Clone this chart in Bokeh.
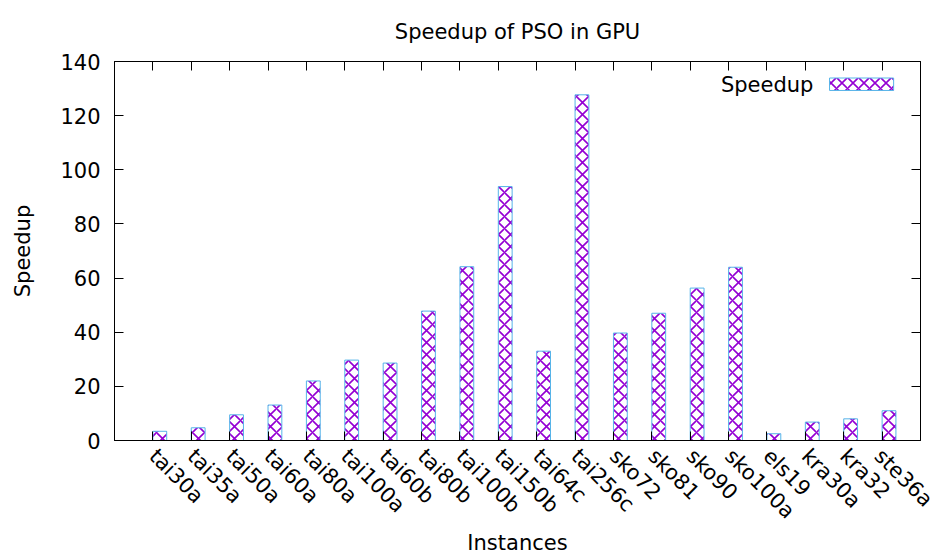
import numpy as np
from bokeh.plotting import figure
from bokeh.models import (ColumnDataSource, FixedTicker, LinearAxis, Range1d,
                          Label, BoxAnnotation, CustomJSTickFormatter)
from bokeh.embed import file_html
from bokeh.resources import INLINE

instances = ["tai30a", "tai35a", "tai50a", "tai60a", "tai80a", "tai100a",
             "tai60b", "tai80b", "tai100b", "tai150b", "tai64c", "tai256c",
             "sko72", "sko81", "sko90", "sko100a", "els19", "kra30a", "kra32",
             "ste36a"]
speedup = [3.4, 4.7, 9.5, 13.1, 22.0, 29.7, 28.6, 47.8, 64.2, 93.8, 33.0,
           127.7, 39.7, 47.0, 56.3, 64.0, 2.5, 6.8, 8.0, 11.0]
y_ticks = [0, 20, 40, 60, 80, 100, 120, 140]

FONT = "DejaVu Sans"
FS = "21px"
PURPLE = "#9400d3"
BLUE = "#56b4e9"

idx = np.arange(len(instances))
bar_w = 0.36
src = ColumnDataSource(dict(x=idx + bar_w / 2, top=speedup))

p = figure(width=937, height=557, output_backend="svg", toolbar_location=None,
           x_range=Range1d(-1, len(instances)), y_range=Range1d(0, 140),
           min_border_left=114, min_border_right=17, min_border_top=60,
           min_border_bottom=117)
p.title.text = "Speedup of PSO in GPU"
p.title.align = "center"
p.title.text_font = FONT
p.title.text_font_size = FS
p.title.text_font_style = "normal"
p.title.text_color = "black"
p.title.standoff = 35

p.vbar(x="x", top="top", bottom=0, width=bar_w, source=src,
       fill_color="white", line_color=BLUE, line_width=1,
       hatch_pattern="x", hatch_color=PURPLE, hatch_scale=12, hatch_weight=1.6)

p.xgrid.visible = False
p.ygrid.visible = False
p.outline_line_color = "black"
p.outline_line_width = 1
p.background_fill_color = "white"
p.border_fill_color = "white"

xt = FixedTicker(ticks=list(idx))
yt = FixedTicker(ticks=y_ticks)

xa = p.xaxis[0]
xa.ticker = xt
xa.major_label_overrides = {int(i): n for i, n in zip(idx, instances)}
xa.major_label_orientation = -np.pi / 4
xa.axis_label = "Instances"

ya = p.yaxis[0]
ya.ticker = yt
ya.axis_label = "Speedup"

for ax in (xa, ya):
    ax.major_tick_in = 9
    ax.major_tick_out = 0
    ax.minor_tick_line_color = None
    ax.axis_line_color = "black"
    ax.major_tick_line_color = "black"
    ax.major_label_text_font = FONT
    ax.major_label_text_font_size = FS
    ax.major_label_text_color = "black"
    ax.axis_label_text_font = FONT
    ax.axis_label_text_font_size = FS
    ax.axis_label_text_font_style = "normal"
    ax.axis_label_text_color = "black"

ya.major_label_standoff = 14
ya.axis_label_standoff = 22
xa.major_label_standoff = 12
xa.axis_label_standoff = -4

blank = CustomJSTickFormatter(code="return '';")
top_ax = LinearAxis(ticker=xt, formatter=blank, major_tick_in=9, major_tick_out=0,
                    minor_tick_line_color=None, major_label_standoff=0,
                    axis_line_color="black")
right_ax = LinearAxis(ticker=yt, formatter=blank, major_tick_in=9, major_tick_out=0,
                      minor_tick_line_color=None, major_label_standoff=0,
                      axis_line_color="black")
p.add_layout(top_ax, "above")
p.add_layout(right_ax, "right")

# legend (label left, key right, as in the reference)
p.add_layout(Label(x=17.21, y=131.5, text="Speedup", text_font=FONT,
                   text_font_size=FS, text_align="right",
                   text_baseline="middle", text_color="black"))
p.add_layout(BoxAnnotation(left=17.63, right=19.30, bottom=129.3, top=133.9,
                           fill_color="white", fill_alpha=1, line_color=BLUE,
                           line_width=1, line_alpha=1,
                           hatch_pattern="x", hatch_color=PURPLE,
                           hatch_scale=11, hatch_weight=1.6))

open("out.html", "w").write(file_html(p, INLINE))
